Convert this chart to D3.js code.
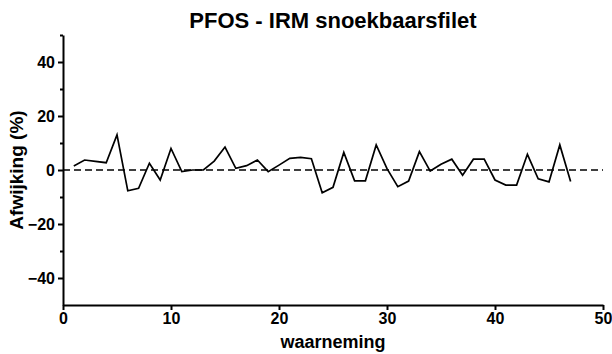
<!DOCTYPE html>
<html><head><meta charset="utf-8">
<script src="https://cdn.jsdelivr.net/npm/d3@7"></script>
<style>
html,body{margin:0;padding:0;background:#fff;}
text{font-family:"Liberation Sans",Arial,sans-serif;font-weight:bold;fill:#000;}
</style></head>
<body>
<svg id="c" width="612" height="354"></svg>
<script>
const title = "PFOS - IRM snoekbaarsfilet";
const xLabel = "waarneming";
const yLabel = "Afwijking (%)";
const observations = [1,2,3,4,5,6,7,8,9,10,11,12,13,14,15,16,17,18,19,20,21,22,23,24,25,26,27,28,29,30,31,32,33,34,35,36,37,38,39,40,41,42,43,44,45,46,47];
const deviations = [1.5,3.7,3.2,2.7,13,-7.7,-6.8,2.5,-3.7,8.0,-0.6,0,0,3.3,8.5,0.6,1.6,3.7,-0.6,1.8,4.3,4.7,4.2,-8.4,-6.4,6.5,-4.0,-4.0,9.3,0.5,-6.2,-4.1,6.8,-0.4,2.1,4.0,-1.9,4.0,4.0,-3.7,-5.6,-5.6,5.8,-3.3,-4.4,9.3,-4.3];
const xTicks = [0,10,20,30,40,50];
const yMajorTicks = [-40,-20,0,20,40];
const yMinorTicks = [-30,-10,10,30,50];
const refLine = [0,50];

const svg = d3.select("#c");
const x = d3.scaleLinear().domain([0,50]).range([63,603]);
const y = d3.scaleLinear().domain([-50,50]).range([305,35]);

// title
svg.append("text").attr("x",333).attr("y",28).attr("text-anchor","middle")
  .attr("font-size",22).text(title);

// x axis
const xa = svg.append("g").attr("transform",`translate(0,${y(-50)})`)
  .call(d3.axisBottom(x).tickValues(xTicks).tickSize(5).tickSizeOuter(0).tickPadding(3));
xa.selectAll("text").attr("font-size",16).style("font-family","Liberation Sans, Arial, sans-serif").style("font-weight","bold");

// y axis
const ya = svg.append("g").attr("transform",`translate(${x(0)},0)`)
  .call(d3.axisLeft(y).tickValues(yMajorTicks).tickSize(5).tickSizeOuter(0).tickPadding(3));
ya.selectAll("text").attr("font-size",16).style("font-family","Liberation Sans, Arial, sans-serif").style("font-weight","bold");
const ym = svg.append("g").attr("transform",`translate(${x(0)},0)`)
  .call(d3.axisLeft(y).tickValues(yMinorTicks).tickSize(3).tickSizeOuter(0).tickFormat(""));
ym.select(".domain").remove();

svg.selectAll(".domain, .tick line").attr("stroke","#000").attr("stroke-width",2);

// axis titles
svg.append("text").attr("x",333).attr("y",348).attr("text-anchor","middle")
  .attr("font-size",18).text(xLabel);
svg.append("text").attr("transform",`translate(23,${y(0)}) rotate(-90)`).attr("text-anchor","middle")
  .attr("font-size",19).text(yLabel);

// reference dashed line
svg.append("line").attr("x1",x(refLine[0])).attr("x2",x(refLine[1]))
  .attr("y1",y(0)).attr("y2",y(0))
  .attr("stroke","#000").attr("stroke-width",1.6).attr("stroke-dasharray","7,4");

// data line
const data = observations.map((o,i)=>({x:o,y:deviations[i]}));
svg.append("path").datum(data)
  .attr("fill","none").attr("stroke","#000").attr("stroke-width",1.7)
  .attr("stroke-linejoin","miter")
  .attr("d", d3.line().x(d=>x(d.x)).y(d=>y(d.y)));
</script>
</body></html>
